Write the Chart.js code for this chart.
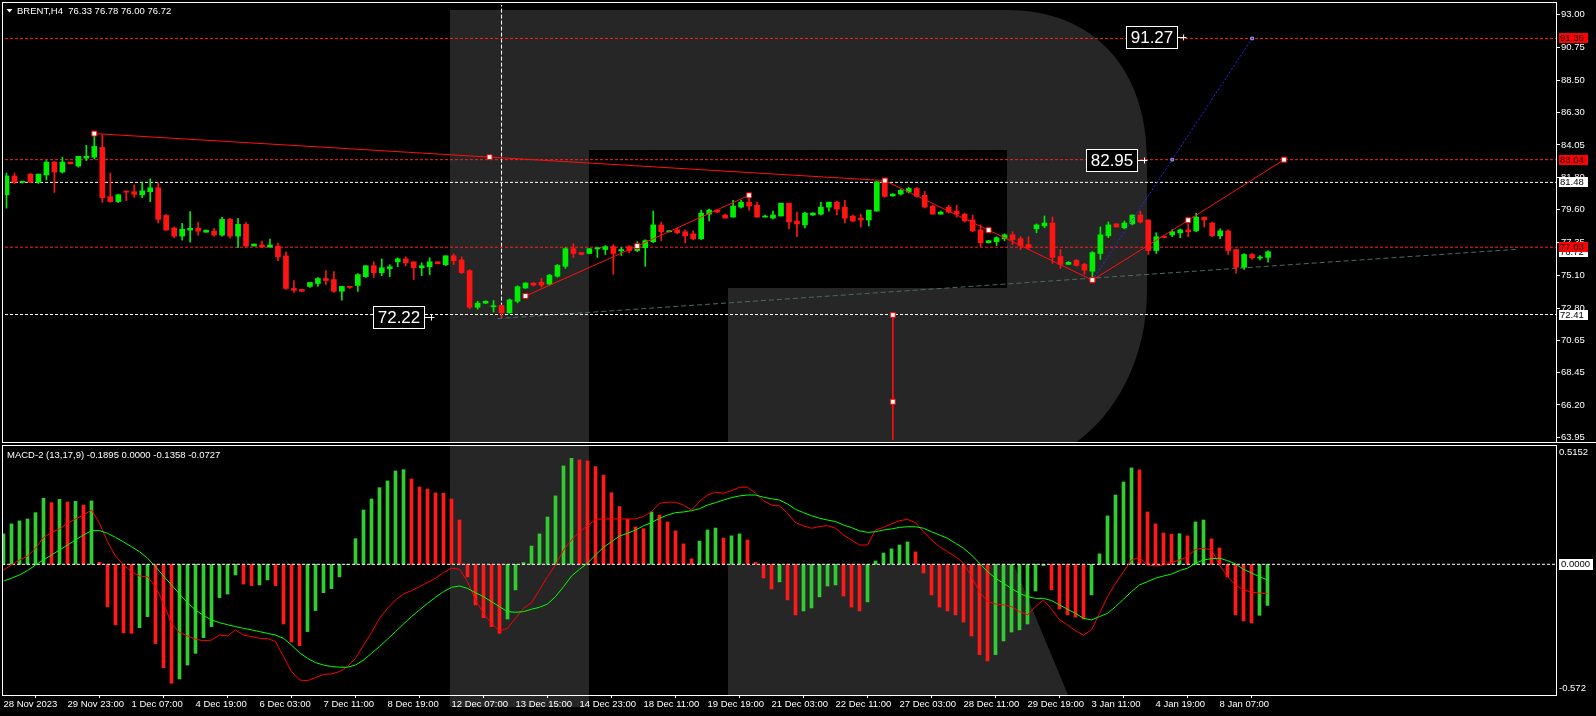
<!DOCTYPE html>
<html><head><meta charset="utf-8">
<script src="https://cdn.jsdelivr.net/npm/chart.js@4.4.1/dist/chart.umd.min.js"></script>
<style>
html,body{margin:0;padding:0;background:#000;width:1596px;height:716px;overflow:hidden}
canvas{position:absolute;left:0}
#c1{top:0}
#c2{top:445px}
</style></head><body>
<canvas id="c1" width="1596" height="445"></canvas>
<canvas id="c2" width="1596" height="271"></canvas>
<script>
// ---------------- DATA ----------------
const opens = [80.63,81.92,81.49,82.05,81.49,81.99,82.87,82.19,82.87,82.60,83.14,83.21,83.88,80.50,80.16,80.88,80.84,80.63,80.84,81.11,79.21,78.35,77.79,78.20,78.33,78.06,78.13,77.86,78.94,77.79,78.60,77.11,77.18,77.04,77.11,76.44,74.20,74.13,74.34,74.54,74.88,74.81,74.00,74.34,74.40,75.01,75.76,75.28,75.56,76.03,76.23,76.03,75.62,75.69,76.03,75.83,76.44,76.16,75.42,72.91,73.19,72.94,73.03,72.53,73.32,74.23,74.57,74.63,74.50,75.04,75.72,76.93,76.66,76.60,76.91,76.87,77.07,76.78,77.07,76.80,77.00,77.41,78.56,78.09,78.22,78.09,77.95,77.61,79.30,79.58,79.24,79.10,79.78,80.12,79.91,79.10,79.03,79.17,80.05,78.83,78.56,79.24,79.30,79.78,80.12,79.78,79.17,79.03,78.90,79.51,81.52,80.55,80.68,80.82,81.06,80.59,79.85,79.30,79.78,79.51,79.30,78.90,78.22,77.34,77.41,77.61,77.88,77.61,77.21,78.29,78.49,78.69,76.39,75.85,76.12,75.85,75.38,76.60,77.81,78.63,78.36,78.63,79.24,78.90,76.80,77.75,77.88,78.02,78.22,78.15,79.10,78.69,77.81,78.15,76.87,75.65,76.53,76.28,76.33];
const highs = [82.12,82.12,81.54,82.08,82.05,82.98,82.93,83.21,82.87,83.27,84.02,84.81,84.75,82.12,80.68,80.90,81.31,81.45,81.72,81.45,79.28,78.42,78.67,79.48,78.74,78.20,78.33,79.08,79.01,79.01,78.74,77.25,77.45,77.59,77.32,76.71,74.74,74.13,74.61,74.95,75.42,75.35,74.34,74.34,75.22,75.76,76.03,76.23,75.83,76.30,76.37,76.03,75.96,76.30,76.03,76.44,76.57,76.37,75.49,73.32,73.35,73.37,73.05,73.48,74.38,74.60,74.60,74.90,75.17,75.85,77.00,77.27,76.68,76.95,77.00,77.14,77.21,77.00,77.14,77.41,77.54,79.51,78.76,78.17,78.36,78.22,78.15,79.58,79.64,79.60,79.30,80.25,80.25,80.73,80.12,79.24,79.51,80.05,80.05,79.44,79.44,79.40,80.12,80.12,80.18,80.25,79.24,79.30,79.58,81.55,81.67,80.70,81.00,81.13,81.13,80.86,79.91,79.51,79.91,79.91,79.37,79.24,78.56,77.50,77.75,77.95,78.09,77.75,77.75,78.63,79.17,79.10,76.87,76.05,76.19,75.92,76.73,78.42,78.76,78.65,78.83,79.24,79.51,78.90,78.02,77.76,78.22,78.29,78.63,79.37,79.10,78.76,78.29,78.22,76.87,76.60,76.60,76.45,76.78];
const lows = [79.71,81.40,81.43,81.47,81.40,81.65,80.79,82.12,82.75,82.53,82.98,83.09,80.11,80.11,80.09,80.23,80.45,80.43,80.16,78.69,78.20,77.68,77.52,77.38,77.86,78.06,77.79,77.79,77.65,77.00,77.04,77.11,77.00,77.02,76.10,74.13,73.93,74.00,74.27,74.34,74.47,73.93,73.39,74.20,74.00,74.95,74.95,75.08,75.01,75.69,75.76,74.81,75.08,75.15,75.89,75.76,75.83,75.22,72.80,72.78,73.15,72.58,72.22,72.49,73.21,74.20,74.36,74.29,74.43,74.97,75.58,76.33,76.50,76.58,76.33,76.53,75.17,76.46,76.66,76.73,75.72,77.34,77.48,78.07,77.95,77.34,77.54,77.54,78.83,79.42,79.03,79.10,79.71,79.58,79.10,79.10,78.97,79.17,78.29,77.75,78.36,79.22,79.24,79.51,79.24,78.69,78.76,78.42,78.49,79.50,80.46,80.52,80.61,80.75,80.46,79.71,79.30,79.30,79.37,79.10,78.76,78.09,77.07,77.32,77.14,77.48,77.21,76.87,76.87,78.02,78.36,75.92,75.58,75.85,75.72,75.17,74.80,76.19,77.68,78.40,78.29,78.56,78.69,76.53,76.60,77.68,77.75,77.68,77.75,78.09,78.42,77.75,77.61,76.53,75.24,75.51,76.20,76.15,76.00];
const closes = [81.92,81.49,81.52,81.49,82.05,82.87,82.19,82.87,82.75,83.27,83.27,83.95,80.43,80.16,80.63,80.81,80.66,80.90,81.11,78.94,78.20,77.79,78.26,78.33,78.13,78.20,77.86,78.94,77.79,78.60,77.11,77.25,77.04,77.18,76.37,74.20,74.07,74.00,74.61,74.88,74.74,74.00,74.34,74.27,75.15,75.76,75.28,75.62,75.69,76.23,75.96,75.62,75.76,76.03,75.89,76.44,76.10,75.28,72.91,73.19,73.32,72.98,72.53,73.41,74.32,74.57,74.43,74.43,75.11,75.78,76.93,76.60,76.53,76.93,77.00,77.07,76.60,76.87,76.80,77.14,77.48,78.56,78.09,78.15,78.02,77.81,77.61,79.37,79.58,79.44,79.03,79.85,80.12,79.85,79.10,79.17,79.24,80.05,78.76,78.63,79.37,79.37,79.78,80.12,79.64,79.03,78.83,78.90,79.58,81.52,80.52,80.68,80.93,81.06,80.52,79.78,79.30,79.44,79.44,79.30,78.83,78.15,77.34,77.48,77.68,77.88,77.54,77.14,77.00,78.56,78.69,76.33,75.85,75.99,75.78,75.45,76.66,77.88,78.56,78.42,78.69,79.24,78.76,76.80,77.75,77.70,78.09,78.22,78.09,79.10,78.90,77.81,78.15,76.80,75.65,76.53,76.30,76.35,76.72];

const macdHist = [0.140,0.186,0.200,0.209,0.238,0.304,0.284,0.299,0.287,0.290,0.273,0.292,0.009,-0.195,-0.279,-0.316,-0.318,-0.292,-0.241,-0.365,-0.476,-0.548,-0.528,-0.464,-0.410,-0.338,-0.287,-0.154,-0.137,-0.049,-0.091,-0.098,-0.095,-0.072,-0.098,-0.275,-0.358,-0.375,-0.310,-0.213,-0.131,-0.112,-0.058,-0.002,0.118,0.250,0.301,0.353,0.384,0.430,0.436,0.393,0.356,0.347,0.329,0.327,0.301,0.204,-0.058,-0.187,-0.246,-0.287,-0.318,-0.252,-0.118,0.008,0.084,0.140,0.218,0.315,0.453,0.488,0.481,0.476,0.450,0.411,0.330,0.266,0.207,0.172,0.164,0.241,0.227,0.195,0.154,0.094,0.025,0.107,0.158,0.167,0.121,0.131,0.140,0.112,0.009,-0.063,-0.114,-0.081,-0.164,-0.233,-0.215,-0.201,-0.150,-0.100,-0.095,-0.146,-0.197,-0.215,-0.173,0.015,0.052,0.071,0.089,0.103,0.057,-0.040,-0.141,-0.197,-0.215,-0.233,-0.266,-0.330,-0.416,-0.445,-0.416,-0.353,-0.312,-0.302,-0.275,-0.123,-0.006,-0.118,-0.206,-0.233,-0.243,-0.252,-0.141,0.048,0.223,0.319,0.379,0.444,0.435,0.241,0.186,0.144,0.139,0.141,0.131,0.195,0.204,0.117,0.075,-0.058,-0.233,-0.261,-0.270,-0.235,-0.1895];
const macdMain = [-0.026,-0.003,0.020,0.038,0.074,0.124,0.146,0.163,0.189,0.209,0.227,0.250,0.189,0.104,0.038,-0.003,-0.034,-0.054,-0.057,-0.103,-0.180,-0.272,-0.315,-0.330,-0.345,-0.352,-0.349,-0.326,-0.330,-0.302,-0.326,-0.333,-0.341,-0.342,-0.356,-0.425,-0.494,-0.533,-0.536,-0.522,-0.507,-0.505,-0.494,-0.471,-0.433,-0.372,-0.315,-0.249,-0.203,-0.164,-0.137,-0.121,-0.103,-0.084,-0.064,-0.038,-0.018,-0.023,-0.080,-0.164,-0.226,-0.272,-0.307,-0.295,-0.249,-0.203,-0.177,-0.118,-0.057,-0.003,0.066,0.112,0.150,0.177,0.207,0.209,0.209,0.209,0.209,0.209,0.220,0.243,0.281,0.286,0.286,0.273,0.250,0.289,0.319,0.332,0.327,0.339,0.355,0.355,0.327,0.293,0.273,0.269,0.235,0.192,0.177,0.166,0.174,0.178,0.166,0.135,0.112,0.089,0.089,0.158,0.170,0.186,0.201,0.207,0.192,0.150,0.112,0.081,0.058,0.035,0.005,-0.057,-0.126,-0.172,-0.183,-0.187,-0.195,-0.218,-0.233,-0.195,-0.164,-0.207,-0.256,-0.279,-0.306,-0.326,-0.302,-0.226,-0.149,-0.088,-0.034,0.020,0.032,-0.003,-0.008,-0.003,0.008,0.020,0.035,0.069,0.074,0.066,-0.003,-0.057,-0.095,-0.118,-0.128,-0.133,-0.1358];
const macdSignal = [-0.077,-0.064,-0.049,-0.029,-0.003,0.020,0.043,0.066,0.089,0.112,0.135,0.155,0.155,0.143,0.124,0.103,0.081,0.058,0.028,-0.011,-0.054,-0.095,-0.137,-0.177,-0.210,-0.236,-0.256,-0.269,-0.278,-0.287,-0.295,-0.302,-0.310,-0.318,-0.326,-0.341,-0.372,-0.407,-0.433,-0.453,-0.464,-0.471,-0.474,-0.474,-0.464,-0.441,-0.410,-0.379,-0.345,-0.310,-0.275,-0.241,-0.210,-0.180,-0.152,-0.126,-0.106,-0.100,-0.111,-0.131,-0.149,-0.172,-0.195,-0.218,-0.221,-0.218,-0.207,-0.198,-0.183,-0.149,-0.103,-0.054,-0.023,0.005,0.043,0.078,0.104,0.130,0.143,0.158,0.177,0.192,0.212,0.227,0.238,0.241,0.247,0.256,0.273,0.284,0.296,0.307,0.315,0.319,0.319,0.309,0.302,0.296,0.278,0.253,0.238,0.224,0.212,0.204,0.197,0.181,0.169,0.154,0.147,0.150,0.158,0.163,0.170,0.173,0.173,0.166,0.150,0.135,0.120,0.097,0.074,0.043,0.005,-0.034,-0.064,-0.088,-0.111,-0.134,-0.149,-0.157,-0.157,-0.167,-0.187,-0.207,-0.226,-0.249,-0.256,-0.241,-0.226,-0.195,-0.161,-0.126,-0.095,-0.080,-0.064,-0.054,-0.045,-0.029,-0.018,0.005,0.020,0.026,0.028,0.017,0.002,-0.023,-0.040,-0.057,-0.0727];

const dateTickIdx = [0,8,16,24,32,40,48,56,64,72,80,88,96,104,112,120,128,136,144,152];
const dateLabels = ['28 Nov 2023','29 Nov 23:00','1 Dec 07:00','4 Dec 19:00','6 Dec 03:00','7 Dec 11:00','8 Dec 19:00','12 Dec 07:00','13 Dec 15:00','14 Dec 23:00','18 Dec 11:00','19 Dec 19:00','21 Dec 03:00','22 Dec 11:00','27 Dec 03:00','28 Dec 11:00','29 Dec 19:00','3 Jan 11:00','4 Jan 19:00','8 Jan 07:00'];
const priceTicks = [93.00,90.75,88.50,86.30,84.05,81.80,79.60,77.35,75.10,72.80,70.65,68.45,66.20,63.95];
const macdTicks = [0.5152,-0.572];
const macdTickLabels = ['0.5152','-0.572'];

// drawn objects (index, price)
const trendTop = [[11,84.83],[60.5,83.215],[110,81.60]];
const zigUp1 = [[65,73.68],[79,77.11],[93,80.59]];
const zigDown = [[110,81.60],[123,78.20],[136,74.77]];
const zigUp2 = [[136,74.77],[148,78.88],[160,83.04]];
const bluePath = [[136,74.77],[146,83.04],[156,91.36]];
const vertRed = [[111,72.37],[111,66.42],[111,60]];
const greyTrend = [[61.5,72.13],[189,76.88]];
const crossIdx = 62, crossLow = 72.22;
const levels = [91.36,83.04,81.48,77.03,72.41];
const levelKinds = ['r','r','w','r','w'];
const tagValues = [91.36,83.04,81.48,76.72,77.03,72.41];
const tagKinds = ['r','r','w','w','r','w'];
const noteTexts = ['72.22','82.95','91.27'];
const noteIdx = [53.6,142.9,147.8];
const notePrices = [72.26,83.00,91.45];
const headerMain = 'BRENT,H4  76.33 76.78 76.00 76.72';
const headerMacd = 'MACD-2 (13,17,9) -0.1895 0.0000 -0.1358 -0.0727';

// ---------------- STYLE ----------------
const UP = '#00ee00', DN = '#ff1414';
const HUP = '#33cc33', HDN = '#ff1a1a';
const FONT = '"Liberation Sans", Arial, sans-serif';
const X_MIN = -0.1875, X_MAX = 194.0625;
Chart.defaults.font.family = FONT;
Chart.defaults.font.size = 9.5;
Chart.defaults.color = '#fff';

const idx = closes.map((_, i) => i);
const pts = arr => arr.map(p => ({x: p[0], y: p[1]}));

function logo(ctx, offY, panel) {
  ctx.save();
  ctx.translate(0, -offY);
  ctx.fillStyle = '#262626';
  if (panel === 'price') {
    ctx.beginPath();
    ctx.moveTo(450, 10);
    ctx.lineTo(1007, 10);
    ctx.bezierCurveTo(1095, 10, 1147, 70, 1147, 160);
    ctx.lineTo(1147, 290);
    ctx.bezierCurveTo(1147, 360, 1115, 415, 1075, 443);
    ctx.lineTo(728, 443);
    ctx.lineTo(728, 288);
    ctx.lineTo(1007, 288);
    ctx.lineTo(1007, 150);
    ctx.lineTo(589, 150);
    ctx.lineTo(589, 443);
    ctx.lineTo(450, 443);
    ctx.closePath();
    ctx.fill();
  } else {
    ctx.fillRect(450, 445, 139, 262);
    ctx.beginPath();
    ctx.moveTo(728, 565); ctx.lineTo(1014, 565); ctx.lineTo(1068, 695); ctx.lineTo(728, 695);
    ctx.closePath(); ctx.fill();
  }
  ctx.restore();
}

function fitY(w) { return s => { s.width = w; s.paddingTop = 0; s.paddingBottom = 0; }; }

// ---------------- PRICE CHART ----------------
const pricePlugin = {
  id: 'pricePlugin',
  beforeDraw(chart) { logo(chart.ctx, 0, 'price'); },
  afterDatasetsDraw(chart) {
    const ctx = chart.ctx, xs = chart.scales.x, ys = chart.scales.y;
    ctx.save();
    ctx.font = '17px ' + FONT;
    ctx.textBaseline = 'middle';
    ctx.textAlign = 'center';
    noteTexts.forEach((t, k) => {
      const ax = xs.getPixelForValue(noteIdx[k]);
      const ay = Math.round(ys.getPixelForValue(notePrices[k])) + 0.5;
      const bx = Math.round(ax - 61) + 0.5, bw = 51, bh = 22;
      ctx.fillStyle = '#000';
      ctx.fillRect(bx, ay - 11, bw, bh);
      ctx.strokeStyle = '#fff'; ctx.lineWidth = 1;
      ctx.strokeRect(bx, ay - 11, bw, bh);
      ctx.beginPath(); ctx.moveTo(bx + bw, ay); ctx.lineTo(ax, ay);
      ctx.moveTo(ax - 3, ay - 3); ctx.lineTo(ax - 3, ay + 3); ctx.stroke();
      ctx.fillStyle = '#fff';
      ctx.fillText(t, bx + bw / 2, ay + 1);
    });
    ctx.restore();
  },
  afterDraw(chart) {
    const ctx = chart.ctx, ys = chart.scales.y;
    ctx.save();
    ctx.fillStyle = '#fff';
    ctx.fillRect(2, 2, 1554, 1);
    ctx.fillRect(2, 2, 1, 441);
    ctx.fillRect(1556, 2, 1, 441);
    ctx.fillRect(2, 442, 1594, 1);
    ctx.font = '9.5px ' + FONT;
    ctx.textBaseline = 'middle';
    ctx.textAlign = 'left';
    tagValues.forEach((v, k) => {
      const y = Math.round(ys.getPixelForValue(v));
      ctx.fillStyle = tagKinds[k] === 'r' ? '#ff0000' : '#ffffff';
      ctx.fillRect(1559, y - 5, 29, 10);
      ctx.fillStyle = '#000';
      ctx.fillText(v.toFixed(2), 1560, y + 0.5);
    });
    // header
    ctx.fillStyle = '#fff';
    ctx.beginPath(); ctx.moveTo(6.5, 9); ctx.lineTo(12.5, 9); ctx.lineTo(9.5, 12.5); ctx.closePath(); ctx.fill();
    ctx.fillText(headerMain, 17, 11);
    ctx.restore();
  }
};

const priceDatasets = [
  {type: 'bar', data: idx.map(i => ({x: i, y: [lows[i], highs[i]]})), backgroundColor: idx.map(i => closes[i] >= opens[i] ? UP : DN), barThickness: 1, grouped: false, order: 6},
  {type: 'bar', data: idx.map(i => ({x: i, y: [opens[i], closes[i]]})), backgroundColor: idx.map(i => closes[i] >= opens[i] ? UP : DN), barThickness: 5, minBarLength: 1, grouped: false, order: 5},
];
levels.forEach((v, k) => priceDatasets.push({type: 'line', data: [{x: X_MIN, y: v}, {x: X_MAX, y: v}], borderColor: levelKinds[k] === 'r' ? '#ff2020' : '#ffffff', borderWidth: 1, borderDash: [3, 2], pointRadius: 0, order: 9}));
priceDatasets.push({type: 'line', data: pts(greyTrend), borderColor: '#4c6a62', borderWidth: 1, borderDash: [5, 3], pointRadius: 0, order: 9});
priceDatasets.push({type: 'line', data: [{x: crossIdx, y: 100}, {x: crossIdx, y: crossLow}], borderColor: '#ffffff', borderWidth: 1, borderDash: [4, 2], pointRadius: 0, order: 8});
[trendTop, zigUp1, zigDown, zigUp2].forEach(arr => {
  priceDatasets.push({type: 'line', data: pts(arr), borderColor: '#ff1010', borderWidth: 1, pointRadius: 0, order: 3});
  priceDatasets.push({type: 'line', data: pts(arr), showLine: false, pointStyle: 'rect', pointRadius: 3.5, pointBackgroundColor: '#fff', pointBorderColor: '#ff0000', pointBorderWidth: 1, order: 1});
});
priceDatasets.push({type: 'line', data: pts(vertRed), borderColor: '#ff1010', borderWidth: 1, pointRadius: 0, order: 3});
priceDatasets.push({type: 'line', data: pts(vertRed.slice(0, 2)), showLine: false, pointStyle: 'rect', pointRadius: 3.5, pointBackgroundColor: '#fff', pointBorderColor: '#ff0000', pointBorderWidth: 1, order: 1});
priceDatasets.push({type: 'line', data: pts(bluePath), borderColor: '#2626ff', borderWidth: 1, borderDash: [2, 2], pointRadius: 0, order: 2});
priceDatasets.push({type: 'line', data: pts(bluePath.slice(1)), showLine: false, pointStyle: 'rect', pointRadius: 2, pointBackgroundColor: '#4040ff', pointBorderColor: '#ffffff', pointBorderWidth: 0.5, order: 1});

new Chart(document.getElementById('c1'), {
  type: 'bar',
  data: {datasets: priceDatasets},
  options: {
    responsive: false, animation: false, events: [],
    layout: {padding: {left: 2, top: 2, right: 0, bottom: 2}},
    plugins: {legend: {display: false}, tooltip: {enabled: false}},
    scales: {
      x: {type: 'linear', min: X_MIN, max: X_MAX, offset: false, display: false},
      y: {
        type: 'linear', position: 'right', min: 63.795, max: 93.657,
        afterBuildTicks: s => { s.ticks = priceTicks.map(v => ({value: v})); },
        afterFit: fitY(40),
        grid: {drawOnChartArea: false, drawTicks: true, tickLength: 4, color: '#fff', tickColor: '#fff'},
        border: {display: false},
        ticks: {color: '#fff', padding: 1, callback: v => Number(v).toFixed(2)}
      }
    }
  },
  plugins: [pricePlugin]
});

// ---------------- MACD CHART ----------------
const macdPlugin = {
  id: 'macdPlugin',
  beforeDraw(chart) { logo(chart.ctx, 445, 'macd'); },
  afterDraw(chart) {
    const ctx = chart.ctx, ys = chart.scales.y;
    ctx.save();
    ctx.fillStyle = '#fff';
    ctx.fillRect(2, 0, 1554, 1);
    ctx.fillRect(2, 0, 1, 250);
    ctx.fillRect(1556, 0, 1, 251);
    ctx.fillRect(2, 250, 1555, 1);
    ctx.font = '9.5px ' + FONT;
    ctx.textBaseline = 'middle';
    ctx.textAlign = 'left';
    const y0 = Math.round(ys.getPixelForValue(0));
    ctx.fillRect(1559, y0 - 5, 34, 11);
    ctx.fillStyle = '#000';
    ctx.fillText('0.0000', 1561, y0 + 0.5);
    ctx.fillStyle = '#fff';
    ctx.fillText(headerMacd, 7, 10);
    ctx.restore();
  }
};

new Chart(document.getElementById('c2'), {
  type: 'bar',
  data: {datasets: [
    {type: 'bar', data: idx.map(i => ({x: i, y: macdHist[i]})), backgroundColor: idx.map(i => (i === 0 || macdHist[i] > macdHist[i - 1]) ? HUP : HDN), barThickness: 3, grouped: false, order: 5},
    {type: 'line', data: [{x: X_MIN, y: 0}, {x: X_MAX, y: 0}], borderColor: '#fff', borderWidth: 1, borderDash: [3, 2], pointRadius: 0, order: 4},
    {type: 'line', data: idx.map(i => ({x: i, y: macdMain[i]})), borderColor: '#ff0000', borderWidth: 1, pointRadius: 0, order: 2},
    {type: 'line', data: idx.map(i => ({x: i, y: macdSignal[i]})), borderColor: '#00ff00', borderWidth: 1, pointRadius: 0, order: 1}
  ]},
  options: {
    responsive: false, animation: false, events: [],
    layout: {padding: {left: 2, top: 1, right: 0, bottom: 0}},
    plugins: {legend: {display: false}, tooltip: {enabled: false}},
    scales: {
      x: {
        type: 'linear', min: X_MIN, max: X_MAX, offset: false, position: 'bottom',
        afterBuildTicks: s => { s.ticks = dateTickIdx.map(v => ({value: v})); },
        afterFit: s => { s.height = 21; s.paddingLeft = 0; s.paddingRight = 0; },
        grid: {drawOnChartArea: false, drawTicks: true, tickLength: 3, color: '#fff', tickColor: '#fff'},
        border: {display: false},
        ticks: {align: 'start', autoSkip: false, maxRotation: 0, minRotation: 0, padding: 1, color: '#fff',
          callback: v => { const k = dateTickIdx.indexOf(Math.round(v)); return k >= 0 ? dateLabels[k] : ''; }}
      },
      y: {
        type: 'linear', position: 'right', min: -0.6020, max: 0.5449,
        afterBuildTicks: s => { s.ticks = macdTicks.map(v => ({value: v})); },
        afterFit: fitY(40),
        grid: {drawOnChartArea: false, drawTicks: false},
        border: {display: false},
        ticks: {color: '#fff', padding: 3, callback: v => { const k = macdTicks.indexOf(v); return k >= 0 ? macdTickLabels[k] : ''; }}
      }
    }
  },
  plugins: [macdPlugin]
});
</script>
</body></html>
